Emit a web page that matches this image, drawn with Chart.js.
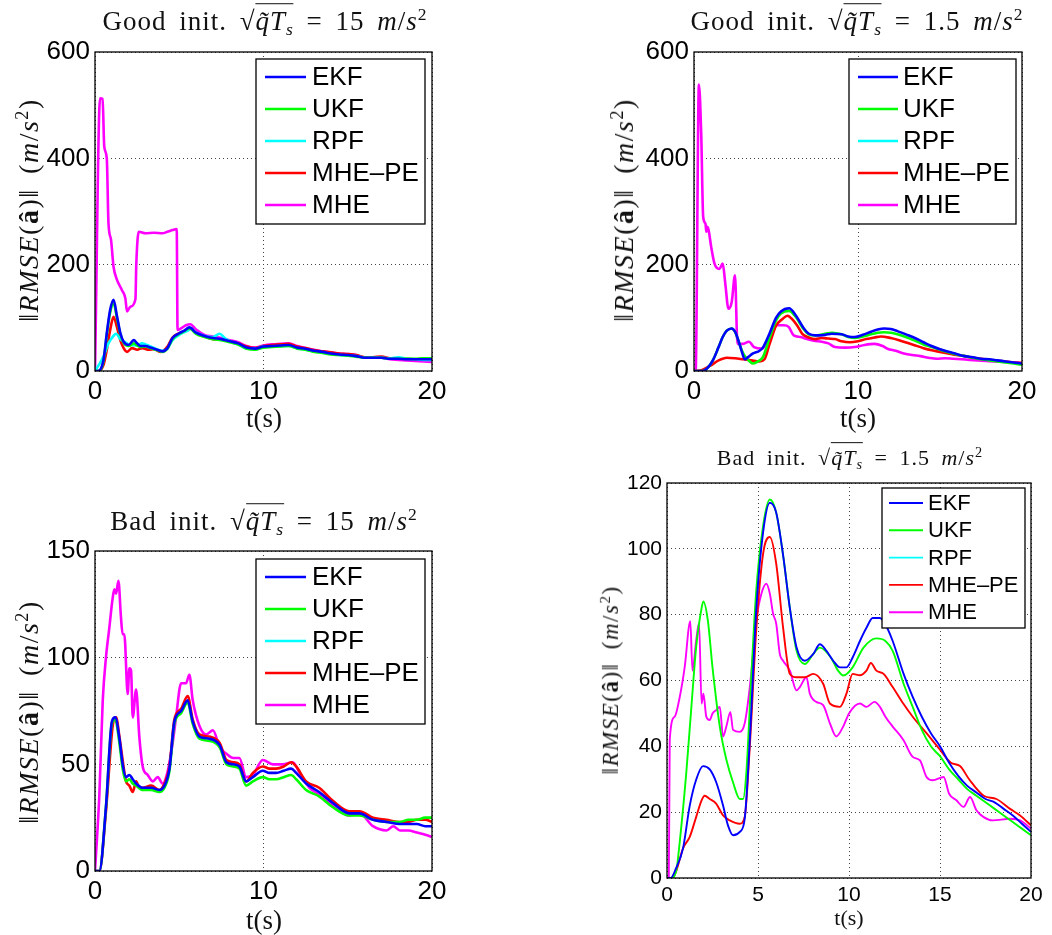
<!DOCTYPE html>
<html>
<head>
<meta charset="utf-8">
<script src="https://cdn.jsdelivr.net/npm/chart.js@4"></script>
<style>
body{margin:0;background:#fff;width:1052px;height:935px;position:relative;overflow:hidden;font-family:"Liberation Serif",serif;color:#111}
canvas{position:absolute}
.lbl{position:absolute;white-space:nowrap;transform:translate(-50%,-50%);z-index:2;line-height:1}
.ttl{letter-spacing:1px;word-spacing:5px}
.ylab{transform:translate(-50%,-50%) rotate(-90deg);letter-spacing:1.5px;word-spacing:6px}
.rt{border-top:1.3px solid #111;padding-top:2px}
sub{font-size:65%;vertical-align:-0.25em}
sup{font-size:65%;vertical-align:0.55em}
</style>
</head>
<body>
<canvas id="c1"></canvas>
<canvas id="c2"></canvas>
<canvas id="c3"></canvas>
<canvas id="c4"></canvas>
<script>
// series labels and colours (legend order)
const seriesNames = ['EKF', 'UKF', 'RPF', 'MHE\u2013PE', 'MHE'];
const seriesColors = ['#0000ff', '#00ff00', '#00ffff', '#ff0000', '#ff00ff'];

// tick labels
const xTicks = [0, 10, 20];
const xTicks4 = [0, 5, 10, 15, 20];
const yTicksGood = [0, 200, 400, 600];
const yTicksBad15 = [0, 50, 100, 150];
const yTicksBad1 = [0, 20, 40, 60, 80, 100, 120];

// panel 1 : Good init, 15 m/s^2   ([t, rmse])
const p1EKF = [[0,0],[0.2,0],[0.5,20],[0.7,71],[0.9,115],[1.1,134],[1.3,104],[1.5,72],[1.7,55],[2.0,49],[2.3,58],[2.5,52],[2.7,47],[3.0,47],[3.3,44],[3.6,41],[4.0,37],[4.3,43],[4.6,62],[5.0,71],[5.3,76],[5.6,82],[6.0,72],[6.5,66],[7.0,62],[7.5,60],[8.0,56],[8.5,52],[9.0,44],[9.5,42],[10.0,46],[10.5,47],[11.0,48],[11.5,49],[12.0,44],[12.5,42],[13.0,38],[13.5,36],[14.0,33],[14.5,31],[15.0,30],[15.5,28],[16.0,25],[16.5,25],[17.0,25],[17.5,23],[18.0,23],[18.5,22],[19.0,22],[19.5,22],[20.0,22]];
const p1UKF = [[0,0],[0.2,0],[0.5,18],[0.7,68],[0.9,110],[1.1,128],[1.3,100],[1.5,70],[1.7,53],[2.0,47],[2.3,52],[2.5,48],[2.7,45],[3.0,46],[3.3,43],[3.6,40],[4.0,36],[4.3,42],[4.6,60],[5.0,70],[5.3,75],[5.6,80],[6.0,70],[6.5,64],[7.0,60],[7.5,58],[8.0,54],[8.5,50],[9.0,42],[9.5,40],[10.0,44],[10.5,45],[11.0,46],[11.5,47],[12.0,42],[12.5,40],[13.0,36],[13.5,34],[14.0,31],[14.5,30],[15.0,29],[15.5,27],[16.0,25],[16.5,25],[17.0,25],[17.5,23],[18.0,23],[18.5,23],[19.0,23],[19.5,24],[20.0,24]];
const p1RPF = [[0,0],[0.2,10],[0.5,27],[0.8,52],[1.0,62],[1.25,70],[1.5,60],[1.8,54],[2.0,50],[2.5,48],[2.8,52],[3.0,50],[3.3,46],[3.6,42],[4.0,38],[4.3,42],[4.6,58],[5.0,68],[5.5,76],[5.7,80],[6.0,72],[6.5,66],[7.0,64],[7.4,70],[7.7,62],[8.0,56],[8.5,50],[9.0,42],[9.5,42],[10.0,46],[10.5,46],[11.0,47],[11.5,47],[12.0,43],[12.5,40],[13.0,37],[13.5,35],[14.0,32],[14.5,30],[15.0,29],[15.5,28],[16.0,25],[16.5,25],[17.0,25],[17.5,24],[18.0,26],[18.5,23],[19.0,22],[19.5,21],[20.0,21]];
const p1MHEPE = [[0,0],[0.2,0],[0.5,11],[0.7,40],[0.9,77],[1.1,102],[1.3,83],[1.5,58],[1.7,43],[1.9,36],[2.2,43],[2.5,40],[2.8,43],[3.2,40],[3.5,41],[3.9,36],[4.3,46],[4.6,63],[5.0,71],[5.5,77],[5.7,80],[6.0,71],[6.5,65],[7.0,60],[7.5,59],[8.0,56],[8.5,52],[9.0,46],[9.5,43],[10.0,47],[10.5,49],[11.0,50],[11.5,51],[12.0,46],[12.5,43],[13.0,39],[13.5,37],[14.0,35],[14.5,33],[15.0,32],[15.5,30],[16.0,26],[16.5,26],[17.0,27],[17.5,24],[18.0,23],[18.5,23],[19.0,22],[19.5,23],[20.0,23]];
const p1MHE = [[0,0],[0.3,513],[0.45,512],[0.55,422],[0.7,400],[0.8,278],[0.95,247],[1.1,196],[1.3,172],[1.6,152],[1.8,137],[1.9,112],[2.1,121],[2.4,135],[2.45,200],[2.6,262],[3.0,259],[3.5,260],[4.0,259],[4.3,262],[4.6,265],[4.85,267],[4.9,77],[5.1,80],[5.4,86],[5.65,88],[6.0,78],[6.5,68],[7.0,65],[7.5,62],[8.0,58],[8.5,54],[9.0,47],[9.5,44],[10.0,48],[10.5,50],[11.0,51],[11.5,52],[12.0,47],[12.5,43],[13.0,40],[13.5,37],[14.0,35],[14.5,33],[15.0,32],[15.5,30],[16.0,25],[16.5,25],[17.0,25],[17.5,22],[18.0,21],[18.5,20],[19.0,19],[19.5,18],[20.0,17]];

// panel 2 : Good init, 1.5 m/s^2
const p2EKF = [[0,0],[0.5,0],[0.8,5],[1.15,20],[1.5,45],[1.75,64],[2.0,76],[2.3,80],[2.5,74],[2.7,58],[2.9,38],[3.1,22],[3.3,26],[3.6,33],[4.0,38],[4.2,44],[4.6,70],[5.0,100],[5.3,112],[5.8,118],[6.2,105],[6.7,80],[7.0,70],[7.4,67],[8.0,68],[8.4,70],[9.0,69],[9.4,65],[9.8,64],[10.3,68],[10.8,74],[11.2,78],[11.6,80],[12.0,79],[12.4,75],[13.0,68],[13.4,63],[14.0,54],[14.4,48],[15.0,41],[15.4,37],[16.0,32],[16.5,28],[17.0,26],[17.5,23],[18.0,22],[18.5,20],[19.0,18],[19.5,16],[20.0,14]];
const p2UKF = [[0,0],[0.5,0],[0.8,5],[1.15,20],[1.5,45],[1.75,64],[2.0,76],[2.3,80],[2.5,74],[2.7,58],[2.9,40],[3.1,28],[3.4,18],[3.6,14],[3.9,18],[4.2,26],[4.6,62],[5.0,95],[5.3,108],[5.8,113],[6.2,102],[6.7,78],[7.0,69],[7.4,67],[8.0,70],[8.4,72],[9.0,69],[9.4,64],[9.8,62],[10.3,65],[10.8,69],[11.2,72],[11.6,73],[12.0,72],[12.4,69],[13.0,63],[13.4,58],[14.0,50],[14.4,46],[15.0,40],[15.4,36],[16.0,31],[16.5,28],[17.0,25],[17.5,22],[18.0,20],[18.5,18],[19.0,16],[19.5,14],[20.0,12]];
const p2RPF = [];
const p2MHEPE = [[0,0],[0.5,2],[1.0,10],[1.5,20],[2.0,25],[2.5,24],[3.0,22],[3.5,20],[4.0,18],[4.3,22],[4.6,50],[5.0,85],[5.4,98],[5.7,104],[6.0,97],[6.3,85],[6.6,70],[7.0,63],[7.4,60],[7.8,62],[8.2,61],[8.6,60],[9.0,56],[9.5,54],[10.0,56],[10.5,60],[11.0,63],[11.4,65],[12.0,62],[12.5,58],[13.0,53],[13.5,48],[14.0,43],[14.5,39],[15.0,36],[15.5,33],[16.0,30],[16.5,28],[17.0,25],[17.5,23],[18.0,21],[18.5,19],[19.0,18],[19.5,16],[20.0,15]];
const p2MHE = [[0,0],[0.1,0],[0.3,539],[0.44,446],[0.56,290],[0.7,277],[0.75,262],[0.8,271],[0.89,265],[1.05,233],[1.25,202],[1.55,192],[1.75,202],[1.91,164],[2.1,117],[2.3,130],[2.5,180],[2.65,51],[2.95,51],[3.35,55],[3.66,45],[4.16,42],[4.57,64],[4.97,86],[5.47,86],[5.77,83],[6.08,67],[6.5,64],[6.78,61],[7.3,57],[7.8,55],[8.2,52],[8.6,45],[9.2,44],[9.8,45],[10.4,49],[11.0,51],[11.5,47],[11.8,42],[12.3,38],[12.8,33],[13.3,30],[13.8,28],[14.3,25],[14.8,23],[15.3,24],[15.8,23],[16.3,22],[16.8,21],[17.3,20],[17.8,19],[18.3,18],[18.9,17],[19.5,16],[20.0,15]];

// panel 3 : Bad init, 15 m/s^2
const p3EKF = [[0,0],[0.26,0],[0.65,30],[1.0,70],[1.2,72],[1.45,62],[1.64,50],[1.84,44],[2.04,45],[2.24,43],[2.44,41],[2.83,39],[3.33,39],[3.82,38],[4.12,40],[4.42,48],[4.71,70],[5.11,75],[5.5,80],[5.8,70],[6.2,63],[6.8,62],[7.4,59],[7.8,51],[8.2,50],[8.57,49],[8.97,42],[9.37,44],[9.96,47],[10.35,46],[10.75,46],[11.2,47],[11.64,48],[11.94,46],[12.53,41],[13.3,37],[14.1,32],[15.1,27],[15.7,27],[16.5,24],[17.3,23],[18.1,22],[18.6,22],[19.1,22],[19.6,21],[20.0,21]];
const p3UKF = [[0,0],[0.26,0],[0.65,30],[1.0,69],[1.2,71],[1.45,60],[1.64,48],[1.84,42],[2.04,43],[2.24,41],[2.44,40],[2.83,38],[3.33,38],[3.82,37],[4.12,39],[4.42,47],[4.71,69],[5.11,74],[5.5,79],[5.8,69],[6.2,62],[6.8,61],[7.4,58],[7.8,50],[8.2,49],[8.57,48],[8.97,40],[9.37,42],[9.96,44],[10.35,43],[10.75,43],[11.2,44],[11.64,45],[11.94,43],[12.53,38],[13.3,35],[14.1,30],[15.1,26],[15.7,26],[16.5,24],[17.3,23],[18.1,23],[18.6,24],[19.1,24],[19.6,25],[20.0,25]];
const p3RPF = [];
const p3MHEPE = [[0,0],[0.26,0],[0.65,28],[1.05,68],[1.25,72],[1.45,63],[1.64,52],[1.84,42],[2.04,40],[2.24,37],[2.44,42],[2.63,39],[2.83,39],[3.33,40],[3.82,38],[4.12,41],[4.42,49],[4.71,71],[5.11,76],[5.5,82],[5.8,71],[6.2,64],[6.8,63],[7.4,60],[7.8,52],[8.2,51],[8.57,50],[8.97,42],[9.37,46],[9.96,49],[10.35,48],[10.75,48],[11.2,49],[11.64,51],[11.94,49],[12.53,42],[13.3,39],[14.1,33],[15.1,28],[15.7,28],[16.5,25],[17.3,24],[18.1,23],[18.6,23],[19.1,24],[19.6,24],[20.0,23]];
const p3MHE = [[0,0],[0.26,36],[0.46,80],[0.65,100],[0.85,114],[1.05,128],[1.15,132],[1.25,130],[1.39,136],[1.54,119],[1.64,111],[1.74,111],[1.94,83],[2.04,95],[2.14,94],[2.24,72],[2.44,85],[2.63,63],[2.83,49],[3.13,45],[3.43,42],[3.72,44],[4.02,41],[4.32,47],[4.61,60],[4.81,72],[5.11,88],[5.4,88],[5.6,92],[5.8,80],[6.2,68],[6.6,64],[7.0,66],[7.4,58],[7.8,55],[8.2,53],[8.57,53],[8.97,44],[9.37,45],[9.96,52],[10.55,50],[11.15,50],[11.74,51],[12.14,46],[12.73,39],[13.3,36],[14.1,31],[15.1,26],[15.7,27],[16.5,21],[17.3,19],[17.7,21],[18.1,19],[18.6,19],[19.1,18],[19.6,17],[20.0,16]];

// panel 4 : Bad init, 1.5 m/s^2
const p4EKF = [[0,0],[0.2,0],[0.5,3],[0.88,9],[1.25,22],[1.61,30],[1.98,34],[2.35,33],[2.71,29],[3.08,22],[3.35,16],[3.63,13],[4.0,14],[4.27,18],[4.55,42],[4.91,82],[5.28,105],[5.65,114],[6.0,111],[6.38,98],[6.75,82],[7.12,70],[7.57,66],[8.03,68],[8.4,71],[8.76,69],[9.13,66],[9.5,64],[9.86,64],[10.2,67],[10.6,72],[10.96,76],[11.3,79],[11.7,79],[12.0,77],[12.4,72],[13.0,62],[13.5,55],[14.0,49],[14.5,44],[15.0,40],[15.5,35],[16.0,31],[16.5,28],[17.0,26],[17.5,24],[18.0,23],[18.5,21],[19.0,19],[19.5,16.5],[20.0,14]];
const p4UKF = [[0,0],[0.2,0],[0.5,2],[0.7,11],[1.06,32],[1.34,52],[1.6,70],[1.9,82],[2.0,84],[2.25,78],[2.5,64],[2.9,46],[3.26,36],[3.63,29],[4.0,24],[4.18,24],[4.36,32],[4.64,62],[4.9,87],[5.28,107],[5.65,115],[6.0,111],[6.38,98],[6.75,82],[7.12,69],[7.57,65],[8.03,68],[8.4,70],[9.0,67],[9.4,63],[9.7,61.5],[10.2,64],[10.8,70],[11.5,72.8],[12.0,72],[12.4,69],[13.0,59],[13.5,52],[14.0,45],[14.5,40],[15.0,37],[15.5,33],[16.0,30],[16.5,27],[17.0,25],[17.5,23],[18.0,21],[18.5,19],[19.0,17],[19.5,15],[20.0,13]];
const p4RPF = [];
const p4MHEPE = [[0,0],[0.3,0],[0.5,2],[0.88,9],[1.25,12.5],[1.6,18.5],[1.9,23.6],[2.07,25],[2.35,24],[2.7,22.6],[3.08,19],[3.45,17.5],[4.0,16.5],[4.27,18.5],[4.55,40],[4.91,76],[5.28,98.5],[5.65,103.6],[6.0,95.5],[6.38,76],[6.75,62],[7.12,61],[7.57,61],[8.03,62],[8.58,59],[8.95,53],[9.5,52],[9.86,56],[10.2,62],[10.6,61.6],[10.96,63],[11.2,65.3],[11.5,63],[11.9,62],[12.4,58],[12.98,53],[13.5,49],[14.26,44],[15.0,39],[15.6,35],[16.1,34],[16.6,30],[17.4,25],[18.1,24],[18.85,21],[19.4,19],[20.0,16]];
const p4MHE = [[0,0],[0.1,0],[0.15,42],[0.42,49],[0.7,55],[0.97,64],[1.28,78],[1.4,63],[1.6,72],[1.76,77.5],[1.9,53],[2.0,56],[2.16,49],[2.35,48],[2.5,50],[2.7,51],[2.9,52],[3.08,43],[3.26,46],[3.48,50.4],[3.63,45],[4.0,44.4],[4.27,47],[4.55,58],[4.91,78.3],[5.19,86.4],[5.46,89.4],[5.65,86.4],[5.83,80.3],[6.0,77.3],[6.2,68],[6.38,66],[6.75,63],[7.12,57],[7.3,58],[7.66,61],[7.85,56],[8.2,53.5],[8.58,52.5],[8.95,47],[9.3,43],[9.68,46],[10.0,50],[10.6,53],[10.96,52],[11.4,53.5],[11.7,52],[12.0,49],[12.4,46],[12.98,42],[13.5,36.8],[13.9,35.7],[14.26,30.7],[14.6,29.7],[15.2,30.7],[15.5,25.6],[15.9,23.6],[16.3,21.6],[16.65,24.6],[17.0,20.6],[17.4,18.5],[17.9,17.5],[18.85,18],[19.4,17.5],[20.0,15]];

// frame around the plot area (matlab "box on")
const framePlugin = {
    id: 'frame',
    afterDraw(chart) {
        const a = chart.chartArea, ctx = chart.ctx;
        ctx.save();
        ctx.strokeStyle = '#000';
        ctx.lineWidth = 1.3;
        ctx.strokeRect(a.left, a.top, a.right - a.left, a.bottom - a.top);
        ctx.restore();
    }
};

// boxed legend in the top right corner
const boxLegend = {
    id: 'boxLegend',
    afterDraw(chart, args, o) {
        const a = chart.chartArea, ctx = chart.ctx;
        const x = a.right - o.dx - o.w, y = a.top + o.dy;
        ctx.save();
        ctx.fillStyle = '#fff';
        ctx.fillRect(x, y, o.w, o.h);
        ctx.strokeStyle = '#000';
        ctx.lineWidth = 1.3;
        ctx.strokeRect(x, y, o.w, o.h);
        ctx.font = o.size + 'px "Liberation Sans", Arial, sans-serif';
        ctx.textBaseline = 'middle';
        chart.data.datasets.forEach((ds, i) => {
            const yy = y + o.first + i * o.row;
            ctx.strokeStyle = ds.borderColor;
            ctx.lineWidth = ds.borderWidth;
            ctx.beginPath();
            ctx.moveTo(x + o.l1, yy);
            ctx.lineTo(x + o.l2, yy);
            ctx.stroke();
            ctx.fillStyle = '#000';
            ctx.fillText(ds.label, x + o.tx, yy + 1);
        });
        ctx.restore();
    }
};

function makePanel(id, area, series, xt, yt, tickSize, lw, leg) {
    const m = {l: 70, t: 30, r: 30, b: 40};
    const cv = document.getElementById(id);
    const w = area.r - area.l + m.l + m.r, h = area.b - area.t + m.t + m.b;
    cv.style.left = (area.l - m.l) + 'px';
    cv.style.top = (area.t - m.t) + 'px';
    cv.width = w; cv.height = h;
    cv.style.width = w + 'px'; cv.style.height = h + 'px';

    const tickFont = {family: '"Liberation Sans", Arial, sans-serif', size: tickSize};
    const gridOpts = {color: '#444', lineWidth: 1, drawTicks: false};
    const borderOpts = {display: false, dash: [1, 3]};

    return new Chart(cv, {
        type: 'line',
        data: {
            datasets: series.map((s, i) => ({
                label: seriesNames[i],
                data: s.map(p => ({x: p[0], y: p[1]})),
                borderColor: seriesColors[i],
                backgroundColor: seriesColors[i],
                borderWidth: lw,
                pointRadius: 0,
                cubicInterpolationMode: 'monotone',
                fill: false
            }))
        },
        options: {
            responsive: false,
            animation: false,
            layout: {padding: {left: 0, top: m.t, right: m.r, bottom: 0}},
            plugins: {legend: {display: false}, tooltip: {enabled: false}, boxLegend: leg},
            scales: {
                x: {
                    type: 'linear', min: 0, max: 20,
                    afterBuildTicks: s => { s.ticks = xt.map(v => ({value: v})); },
                    afterFit: s => { s.height = m.b; },
                    ticks: {font: tickFont, color: '#000', padding: 5, maxRotation: 0},
                    grid: gridOpts, border: borderOpts
                },
                y: {
                    min: yt[0], max: yt[yt.length - 1],
                    afterBuildTicks: s => { s.ticks = yt.map(v => ({value: v})); },
                    afterFit: s => { s.width = m.l; },
                    ticks: {font: tickFont, color: '#000', padding: 5},
                    grid: gridOpts, border: borderOpts
                }
            }
        },
        plugins: [framePlugin, boxLegend]
    });
}

const legBig = {w: 169, h: 165, dx: 7, dy: 7, first: 18, row: 32, l1: 9, l2: 50, tx: 56, size: 26};
const legBig2 = {w: 167, h: 165, dx: 6, dy: 7, first: 18, row: 32, l1: 9, l2: 49, tx: 54, size: 26};
const legSmall = {w: 143, h: 140, dx: 6, dy: 5, first: 15, row: 27.3, l1: 7, l2: 41, tx: 46, size: 22};

makePanel('c1', {l: 95, t: 52, r: 432, b: 371}, [p1EKF, p1UKF, p1RPF, p1MHEPE, p1MHE], xTicks, yTicksGood, 26, 2.6, legBig);
makePanel('c2', {l: 694, t: 52, r: 1022, b: 371}, [p2EKF, p2UKF, p2RPF, p2MHEPE, p2MHE], xTicks, yTicksGood, 26, 2.6, legBig2);
makePanel('c3', {l: 95, t: 551, r: 432, b: 871}, [p3EKF, p3UKF, p3RPF, p3MHEPE, p3MHE], xTicks, yTicksBad15, 26, 2.6, {...legBig, dy: 8});
makePanel('c4', {l: 667, t: 483, r: 1031, b: 878}, [p4EKF, p4UKF, p4RPF, p4MHEPE, p4MHE], xTicks4, yTicksBad1, 21, 1.9, legSmall);

// titles and axis labels (math set as real text)
const sq = '\u221A<span class="rt"><i>q\u0303T</i><sub><i>s</i></sub></span>';
const units = '<i>m</i>/<i>s</i><sup>2</sup>';
const ylab = '\u2016<i>RMSE</i>(<b>\u00e2</b>)\u2016 (' + units + ')';
const texts = [
    [265, 22, 27, 'Good init. ' + sq + ' = 15 ' + units, 'ttl'],
    [857, 22, 27, 'Good init. ' + sq + ' = 1.5 ' + units, 'ttl'],
    [264, 522, 27, 'Bad init. ' + sq + ' = 15 ' + units, 'ttl'],
    [850, 458, 22, 'Bad init. ' + sq + ' = 1.5 ' + units, 'ttl'],
    [264, 418, 27, 't(s)', ''],
    [858, 418, 27, 't(s)', ''],
    [264, 920, 27, 't(s)', ''],
    [849, 918, 22, 't(s)', ''],
    [28, 210, 28, ylab, 'ylab'],
    [623, 210, 28, ylab, 'ylab'],
    [28, 712, 28, ylab, 'ylab'],
    [610, 680, 23, ylab, 'ylab']
];
texts.forEach(([x, y, size, html, cls]) => {
    const d = document.createElement('div');
    d.className = 'lbl ' + cls;
    d.style.left = x + 'px';
    d.style.top = y + 'px';
    d.style.fontSize = size + 'px';
    d.innerHTML = html;
    document.body.appendChild(d);
});
</script>
</body>
</html>
